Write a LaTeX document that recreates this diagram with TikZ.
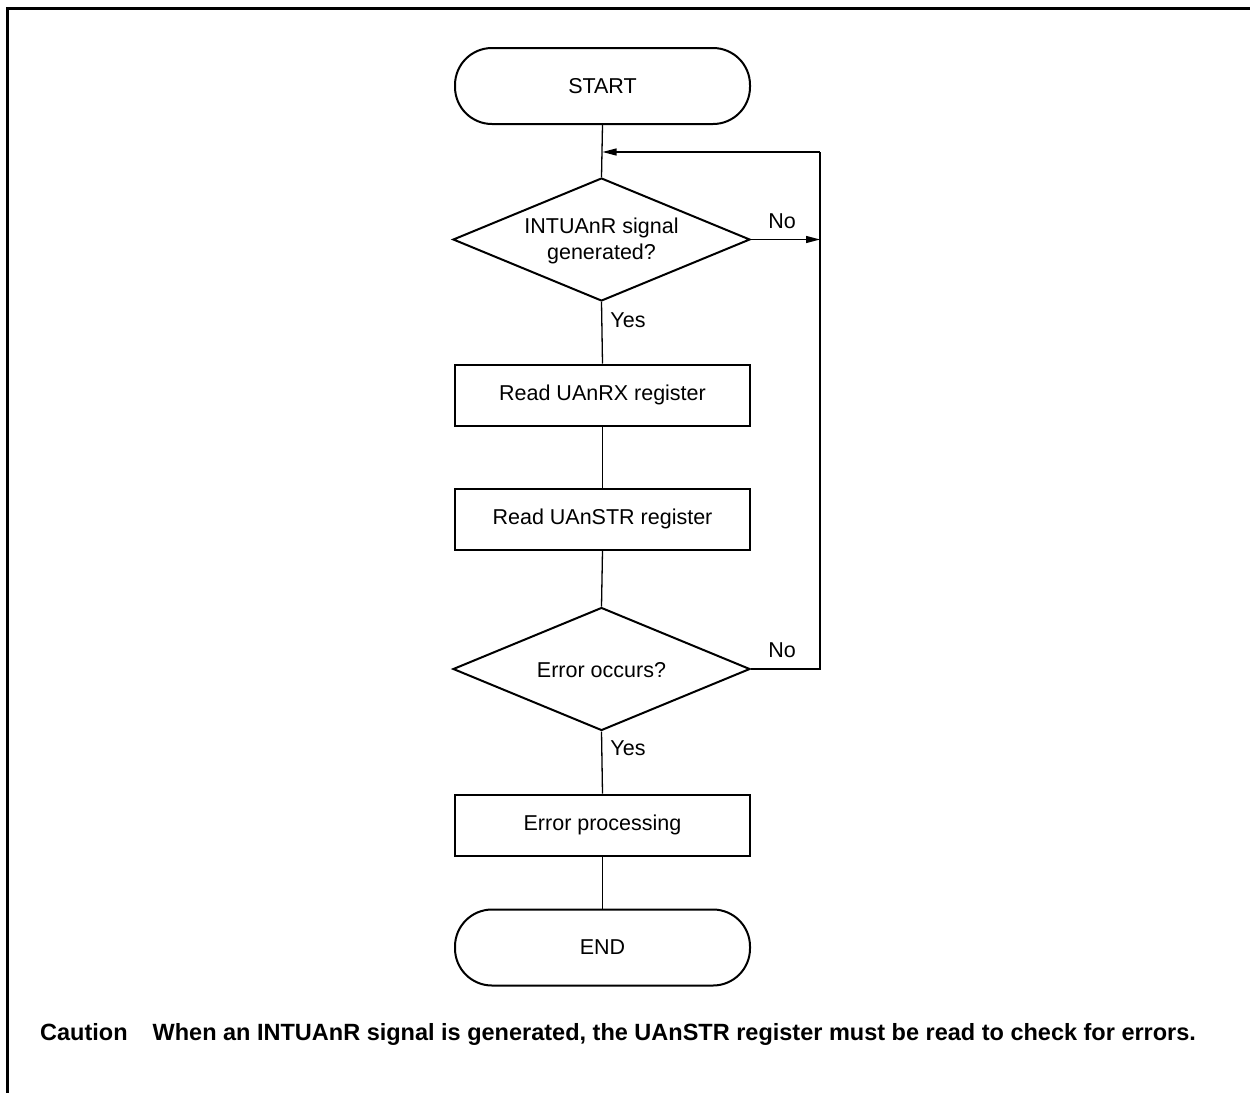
\documentclass[tikz,border=0pt]{standalone}
\usepackage{fontspec}
\setmainfont{Liberation Sans}
\usetikzlibrary{shapes.geometric,arrows.meta}
\begin{document}
\begin{tikzpicture}[x=1pt,y=-1pt,
  every node/.style={font=\fontsize{21.5}{26}\selectfont},
  term/.style={draw,line width=2pt,rounded corners=37pt,minimum width=295pt,minimum height=76pt,inner sep=0pt},
  procbox/.style={draw,line width=2pt,minimum width=295pt,minimum height=61pt,inner sep=0pt},
  decide/.style={draw,line width=2pt,diamond,minimum width=297pt,minimum height=123pt,inner sep=0pt,align=center,aspect=2.4},
  conn/.style={line width=1.3pt},
  arr/.style={conn,-{Triangle[length=14pt,width=7pt]}},
  lbl/.style={inner sep=0pt}
]
\useasboundingbox (0,0) rectangle (1250,1093);
\fill[white] (0,0) rectangle (1250,1093);
\draw[line width=3pt] (1250,8.5) -- (7.5,8.5) -- (7.5,1093);

\node[term] (start) at (602.5,86) {START};
\node[decide] (d1) at (601.5,239.5) {};
\node[lbl,align=center] at (601.5,241) {INTUAnR signal\\generated?};
\node[procbox] (b1) at (602.5,395) {Read UAnRX register};
\node[procbox] (b2) at (602.5,519) {Read UAnSTR register};
\node[decide] (d2) at (601.5,669) {};
\node[lbl] at (601.5,670) {Error occurs?};
\node[procbox] (b3) at (602.5,825) {Error processing};
\node[term] (end) at (602.5,947.5) {END};

\coordinate (loopTop) at (820,152);
\coordinate (loopMid) at (820,239.5);
\coordinate (loopBot) at (820,669);
\coordinate (join) at (602.5,152);

\draw[conn] (start.south) -- (d1.north);
\draw[conn] (d1.south) -- (b1.north);
\draw[conn] (b1.south) -- (b2.north);
\draw[conn] (b2.south) -- (d2.north);
\draw[conn] (d2.south) -- (b3.north);
\draw[conn] (b3.south) -- (end.north);
\draw[conn] (d2.east) -- (loopBot) -- (loopTop);
\draw[arr] (loopTop) -- (join);
\draw[arr] (d1.east) -- (loopMid);

\node[lbl] at (628,320) {Yes};
\node[lbl] at (628,748) {Yes};
\node[lbl] at (782,221) {No};
\node[lbl] at (782,650) {No};

\node[lbl,anchor=west,font=\fontsize{23.5}{28}\selectfont\bfseries] (caution) at (40,1034) {Caution\hspace{25pt}When an INTUAnR signal is generated, the UAnSTR register must be read to check for errors.};
\end{tikzpicture}
\end{document}
